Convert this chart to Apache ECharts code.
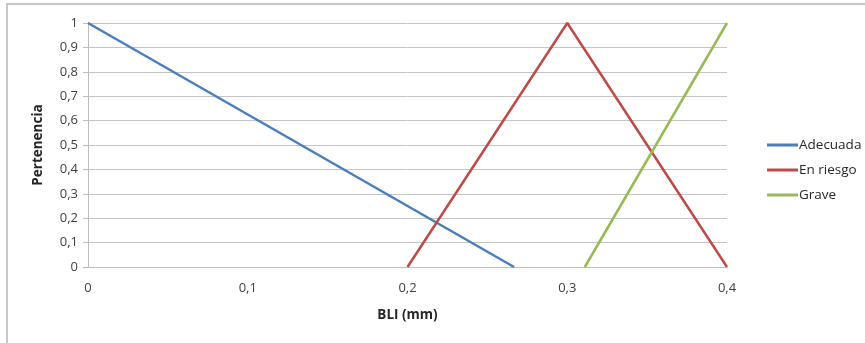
<!DOCTYPE html>
<html>
<head>
<meta charset="utf-8">
<script src="https://cdn.jsdelivr.net/npm/echarts@6/dist/echarts.min.js"></script>
<style>
  html, body { margin: 0; padding: 0; background: #ffffff; }
  #frame { position: absolute; left: 6px; top: 3px; width: 870px; height: 360px;
           border-left: 2px solid #c8c8c8; border-top: 2px solid #c8c8c8; }
  #chart { position: absolute; left: 0; top: 0; width: 865px; height: 343px; }
</style>
</head>
<body>
<div id="frame"></div>
<div id="chart"></div>
<script>
// Membership functions for BLI (mm)
const seriesNames = ['Adecuada', 'En riesgo', 'Grave'];
const adecuadaX = [0, 0.2667];
const adecuadaY = [1, 0];
const enRiesgoX = [0.2, 0.3, 0.4];
const enRiesgoY = [0, 1, 0];
const graveX = [0.311, 0.4];
const graveY = [0, 1];
const xTicks = [0, 0.1, 0.2, 0.3, 0.4];
const yTicks = [0, 0.1, 0.2, 0.3, 0.4, 0.5, 0.6, 0.7, 0.8, 0.9, 1];

const colors = ['#4a7ebb', '#be4b48', '#98b954'];
const pairs = (xs, ys) => xs.map((x, i) => [x, ys[i]]);
const fmt = v => String(Math.round(v * 10) / 10).replace('.', ',');
const font = '"Open Sans", "Liberation Sans", sans-serif';

const chart = echarts.init(document.getElementById('chart'), null, { renderer: 'canvas' });
const lineSeries = [
  pairs(adecuadaX, adecuadaY),
  pairs(enRiesgoX, enRiesgoY),
  pairs(graveX, graveY)
].map((d, i) => ({
  name: seriesNames[i],
  type: 'line',
  data: d,
  symbol: 'none',
  lineStyle: { width: 2.5, color: colors[i] },
  itemStyle: { color: colors[i] },
  animation: false
}));

chart.setOption({
  animation: false,
  color: colors,
  grid: { left: 88, right: 138, top: 23, bottom: 76 },
  legend: {
    orient: 'vertical',
    left: 762,
    top: 133,
    itemWidth: 31,
    itemHeight: 3,
    itemGap: 11,
    icon: 'rect',
    textStyle: { fontFamily: font, fontSize: 13.5, color: '#262626', padding: [0, 0, 0, -4] },
    data: seriesNames
  },
  xAxis: {
    type: 'value',
    min: xTicks[0],
    max: xTicks[xTicks.length - 1],
    interval: 0.1,
    name: 'BLI (mm)',
    nameLocation: 'middle',
    nameGap: 41,
    nameTextStyle: { fontFamily: font, fontSize: 13.5, fontWeight: 'bold', color: '#262626' },
    axisLine: { show: true, lineStyle: { color: '#bdbdbd', width: 1 } },
    axisTick: { show: false },
    splitLine: { show: false },
    axisLabel: { formatter: fmt, fontFamily: font, fontSize: 13, color: '#404040', margin: 15 }
  },
  yAxis: {
    type: 'value',
    min: yTicks[0],
    max: yTicks[yTicks.length - 1],
    interval: 0.1,
    name: 'Pertenencia',
    nameLocation: 'middle',
    nameGap: 43,
    nameRotate: 90,
    nameTextStyle: { fontFamily: font, fontSize: 13.5, fontWeight: 'bold', color: '#262626' },
    axisLine: { show: true, lineStyle: { color: '#bdbdbd', width: 1 } },
    axisTick: { show: true, inside: false, length: 5, lineStyle: { color: '#bdbdbd' } },
    splitLine: { show: true, lineStyle: { color: '#c4c4c4', width: 1 } },
    axisLabel: { formatter: fmt, fontFamily: font, fontSize: 13, color: '#404040', margin: 10 }
  },
  series: lineSeries
});
</script>
</body>
</html>
